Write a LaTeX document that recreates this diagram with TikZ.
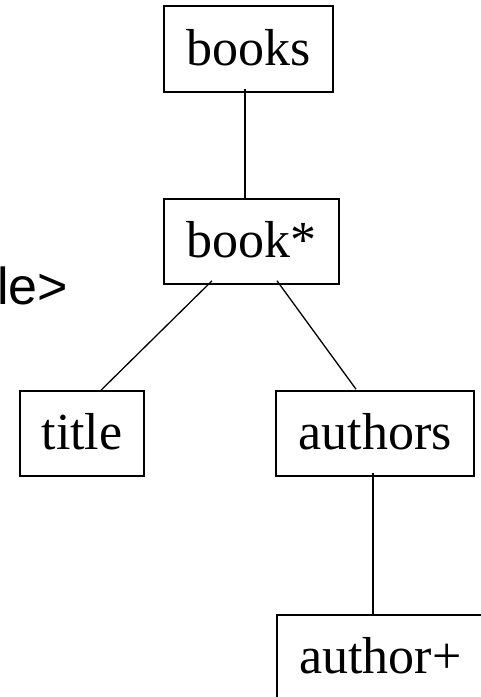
\documentclass[tikz,border=0pt]{standalone}
\usepackage{fontspec}
\setmainfont{Liberation Serif}
\newfontfamily\arialfont{Liberation Sans}
\begin{document}
\begin{tikzpicture}[x=1pt,y=1pt,
  elembox/.style={draw, line width=1.6pt, rectangle, inner sep=0pt,
    minimum height=85pt, text height=36pt, text depth=4pt,
    font=\fontsize{52}{60}\selectfont},
  edge/.style={line width=1.3pt}]
\useasboundingbox (0,0) rectangle (481,-697);
\node[elembox, minimum width=169pt, minimum height=86pt] (books) at (248.5,-49) {books};
\node[elembox, minimum width=175pt] (book) at (251.5,-241.5) {book*};
\node[elembox, minimum width=124pt] (title) at (82,-433.5) {title};
\node[elembox, minimum width=198pt] (authors) at (375,-433.5) {authors};
\node[elembox, minimum width=207pt] (author) at (380.5,-657.5) {author+};
\node[anchor=base west, inner sep=0pt, font=\arialfont\fontsize{52}{60}\selectfont] (frag) at (-3,-304) {le>};
\draw[edge] ([xshift=-3.5pt,yshift=4pt]books.south) -- ([xshift=-6.5pt]book.north);
\draw[edge] ([xshift=-39.5pt,yshift=4pt]book.south) -- ([xshift=19pt]title.north);
\draw[edge] ([xshift=25.5pt,yshift=4pt]book.south) -- ([xshift=-19pt,yshift=1pt]authors.north);
\draw[edge] ([xshift=-2pt,yshift=4pt]authors.south) -- ([xshift=-7.5pt]author.north);
\end{tikzpicture}
\end{document}
